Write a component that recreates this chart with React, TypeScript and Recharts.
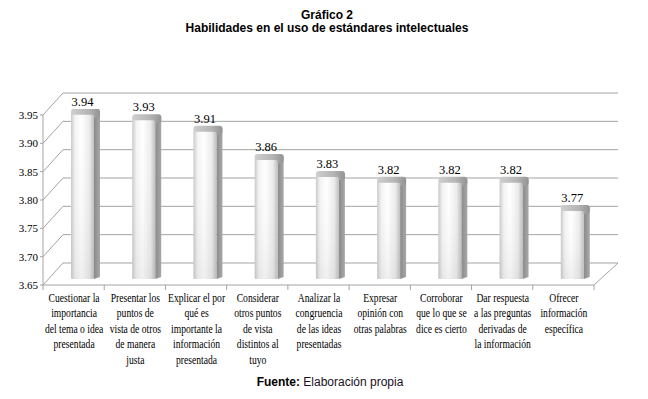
import React from 'react';
import { BarChart, Bar, XAxis, YAxis, CartesianGrid, LabelList } from 'recharts';

const categories: string[] = [
  'Cuestionar la\nimportancia\ndel tema o idea\npresentada',
  'Presentar los\npuntos de\nvista de otros\nde manera\njusta',
  'Explicar el por\nqué es\nimportante la\ninformación\npresentada',
  'Considerar\notros puntos\nde vista\ndistintos al\ntuyo',
  'Analizar la\ncongruencia\nde las ideas\npresentadas',
  'Expresar\nopinión con\notras palabras',
  'Corroborar\nque lo que se\ndice es cierto',
  'Dar respuesta\na las preguntas\nderivadas de\nla información',
  'Ofrecer\ninformación\nespecífica',
];
const values: number[] = [3.94, 3.93, 3.91, 3.86, 3.83, 3.82, 3.82, 3.82, 3.77];
const yTicks: number[] = [3.65, 3.7, 3.75, 3.8, 3.85, 3.9, 3.95];
const yDomain: [number, number] = [3.65, 3.95];
const chartTitle = 'Gráfico 2';
const chartSubtitle = 'Habilidades en el uso de estándares intelectuales';
const sourceLabel = 'Fuente:';
const sourceText = ' Elaboración propia';

const data = categories.map((c, i) => ({ name: c, value: values[i] }));

// perspective offsets of the 3D frame relative to the bar plane
const FRONT_DX = -12;
const FRONT_DY = 6;
const BACK_DX = 8;
const BACK_DY = -16;
const DEPTH = 6;
const GRID = '#a3a3a3';

let gridYs: number[] = [];

const gridGen = (p: any) => {
  const s = p?.yAxis?.scale;
  let ys: number[];
  if (s && typeof s === 'function') {
    ys = yTicks.map((t) => s(t));
  } else {
    const { top, height } = p.offset;
    ys = yTicks.map((t) => top + ((yDomain[1] - t) / (yDomain[1] - yDomain[0])) * height);
  }
  gridYs = ys;
  return ys;
};

const renderHLine = (props: any) => {
  const { x1, x2, y1, index } = props;
  const y = y1;
  const fx = x1 + FRONT_DX;
  const fy = y + FRONT_DY;
  const bx = x1 + BACK_DX;
  const by = y + BACK_DY;
  const bxr = x2 + BACK_DX + 4;
  const maxY = Math.max(...gridYs);
  const minY = Math.min(...gridYs);
  const isBottom = Math.abs(y - maxY) < 0.5;
  const isTop = Math.abs(y - minY) < 0.5;
  const band = (x2 - x1) / categories.length;
  const fxr = fx + band * categories.length;
  const parts: React.ReactNode[] = [];
  parts.push(<line key="b" x1={bx} y1={by} x2={bxr} y2={by} stroke={GRID} strokeWidth={1} />);
  parts.push(<line key="d" x1={fx} y1={fy} x2={bx} y2={by} stroke={GRID} strokeWidth={1} />);
  parts.push(<line key="t" x1={fx - 3} y1={fy} x2={fx} y2={fy} stroke={GRID} strokeWidth={1} />);
  if (isTop) {
    parts.push(<line key="v" x1={fx} y1={fy} x2={fx} y2={maxY + FRONT_DY} stroke={GRID} strokeWidth={1} />);
  }
  if (isBottom) {
    parts.push(<line key="f" x1={fx} y1={fy} x2={fxr} y2={fy} stroke={GRID} strokeWidth={1} />);
    parts.push(<line key="r" x1={fxr} y1={fy} x2={bxr} y2={by} stroke={GRID} strokeWidth={1} />);
    for (let k = 0; k <= categories.length; k++) {
      const tx = fx + band * k;
      parts.push(<line key={'k' + k} x1={tx} y1={fy} x2={tx} y2={fy + 5} stroke={GRID} strokeWidth={1} />);
    }
  }
  return <g key={'grid-' + index}>{parts}</g>;
};

const Bar3D = (props: any) => {
  const { x, y, width, height } = props;
  if (height == null || width == null) return null;
  const fw = width - DEPTH;
  const bottom = y + height;
  return (
    <g>
      <path
        d={`M${x + fw},${y} L${x + width},${y - DEPTH + 2} L${x + width},${bottom - 2} L${x + fw},${bottom} Z`}
        fill="url(#sideGrad)"
      />
      <rect x={x} y={y - DEPTH} width={width} height={DEPTH + 3} rx={3} ry={3} fill="url(#capGrad)" />
      <rect x={x} y={y} width={fw} height={height} rx={1.5} ry={1.5} fill="url(#faceGrad)" />
      <rect x={x} y={y} width={fw} height={height} fill="url(#faceShade)" />
    </g>
  );
};

const renderValueLabel = (props: any) => {
  const { x, y, width, value } = props;
  const fw = width - DEPTH;
  return (
    <text
      x={x + fw / 2}
      y={y - 9}
      textAnchor="middle"
      fontFamily="'Liberation Serif', serif"
      fontSize={12.5}
      fill="#000"
    >
      {Number(value).toFixed(2)}
    </text>
  );
};

const YTick = (props: any) => {
  const { x, y, payload } = props;
  return (
    <text
      x={x + FRONT_DX - 5}
      y={y + FRONT_DY + 4}
      textAnchor="end"
      fontFamily="'Liberation Serif', serif"
      fontSize={11}
      fill="#000"
    >
      {Number(payload.value).toFixed(2)}
    </text>
  );
};

const XTick = (props: any) => {
  const { x, y, payload } = props;
  const lines = String(payload.value).split('\n');
  return (
    <g transform={`translate(${x - 11.5}, ${y})`}>
      <g transform="scale(0.74,1)">
        <text textAnchor="middle" fontFamily="'Liberation Serif', serif" fontSize={13} fill="#000">
          {lines.map((l, i) => (
            <tspan key={i} x={0} y={23 + i * 15.5}>
              {l}
            </tspan>
          ))}
        </text>
      </g>
    </g>
  );
};

export default function App() {
  return (
    <div
      style={{
        position: 'absolute',
        left: 0,
        top: 0,
        width: 648,
        height: 399,
        background: '#fff',
        overflow: 'hidden',
      }}
    >
      <div
        style={{
          position: 'absolute',
          left: 0,
          width: 654,
          top: 9,
          textAlign: 'center',
          fontFamily: "'Liberation Sans', Arial, sans-serif",
          fontWeight: 'bold',
          fontSize: 12,
          lineHeight: '13px',
          color: '#000',
        }}
      >
        <div>{chartTitle}</div>
        <div>{chartSubtitle}</div>
      </div>
      <div style={{ position: 'absolute', left: 0, top: 0 }}>
        <BarChart
          width={648}
          height={399}
          data={data}
          margin={{ top: 109, right: 42, bottom: 90, left: 0 }}
          barCategoryGap={0}
        >
          <defs>
            <linearGradient id="faceGrad" x1="0" y1="0" x2="1" y2="0">
              <stop offset="0%" stopColor="#c9c9c9" />
              <stop offset="18%" stopColor="#f3f3f3" />
              <stop offset="45%" stopColor="#ffffff" />
              <stop offset="80%" stopColor="#ebebeb" />
              <stop offset="100%" stopColor="#bdbdbd" />
            </linearGradient>
            <linearGradient id="faceShade" x1="0" y1="0" x2="0" y2="1">
              <stop offset="0%" stopColor="#ffffff" stopOpacity={0} />
              <stop offset="100%" stopColor="#9a9a9a" stopOpacity={0.15} />
            </linearGradient>
            <linearGradient id="sideGrad" x1="0" y1="0" x2="1" y2="0">
              <stop offset="0%" stopColor="#8a8a8a" />
              <stop offset="100%" stopColor="#a8a8a8" />
            </linearGradient>
            <linearGradient id="capGrad" x1="0" y1="0" x2="1" y2="0">
              <stop offset="0%" stopColor="#cfcfcf" />
              <stop offset="60%" stopColor="#b5b5b5" />
              <stop offset="100%" stopColor="#939393" />
            </linearGradient>
          </defs>
          <CartesianGrid
            vertical={false}
            horizontal={renderHLine}
            horizontalCoordinatesGenerator={gridGen}
          />
          <XAxis
            dataKey="name"
            type="category"
            axisLine={false}
            tickLine={false}
            tickSize={0}
            tickMargin={0}
            interval={0}
            height={30}
            tick={<XTick />}
          />
          <YAxis
            type="number"
            domain={yDomain}
            ticks={yTicks}
            allowDataOverflow
            axisLine={false}
            tickLine={false}
            tickSize={0}
            tickMargin={0}
            width={55}
            tick={<YTick />}
          />
          <Bar dataKey="value" barSize={29} shape={<Bar3D />} isAnimationActive={false}>
            <LabelList dataKey="value" content={renderValueLabel} />
          </Bar>
        </BarChart>
      </div>
      <div
        style={{
          position: 'absolute',
          left: 0,
          width: 660,
          top: 375,
          textAlign: 'center',
          fontFamily: "'Liberation Sans', Arial, sans-serif",
          fontSize: 12,
          lineHeight: '14px',
          color: '#1a1024',
        }}
      >
        <span style={{ fontWeight: 'bold', color: '#000' }}>{sourceLabel}</span>
        {sourceText}
      </div>
    </div>
  );
}
